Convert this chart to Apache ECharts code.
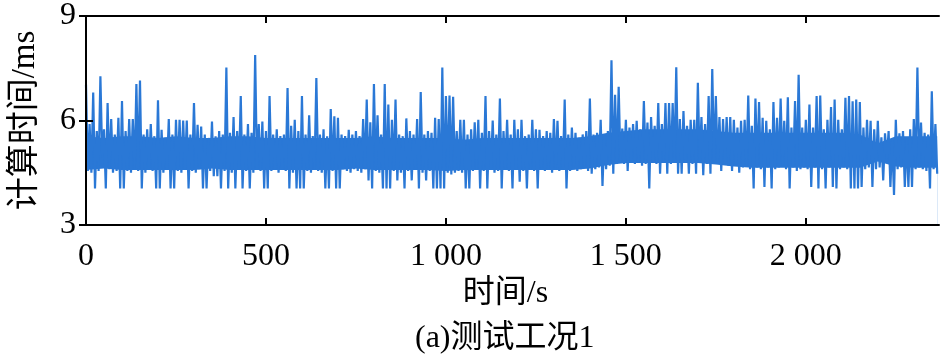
<!DOCTYPE html>
<html>
<head>
<meta charset="utf-8">
<script src="https://cdn.jsdelivr.net/npm/echarts@6/dist/echarts.min.js"></script>
<style>
html,body{margin:0;padding:0;background:#fff;}
#c{width:942px;height:357px;}
</style>
</head>
<body>
<div id="c"></div>
<script>
// Sampling: each 10 s bin holds an upper sample (at bin start) and a lower sample (5 s later)
const binSeconds = 10;
// upper samples (ms), bins 0..236
const hiValues = [
  7.03, 5.9, 6.8, 5.7, 7.27, 5.75, 6.5, 6.04, 5.6, 6.08,
  6.56, 5.7, 6.04, 6.04, 7.05, 7.15, 5.6, 5.75, 5.9, 5.55,
  6.58, 5.73, 5.5, 6.04, 5.6, 6.02, 6.02, 6.0, 6.0, 5.6,
  6.5, 5.88, 5.83, 5.6, 5.5, 5.97, 5.55, 5.7, 5.6, 7.52,
  5.65, 6.1, 5.7, 6.7, 5.6, 5.9, 5.65, 7.88, 5.9, 5.97,
  5.7, 6.7, 5.6, 5.75, 5.55, 5.6, 6.93, 5.85, 6.02, 5.7,
  6.7, 5.6, 6.15, 5.55, 7.22, 5.6, 5.75, 5.55, 6.33, 6.12,
  6.08, 5.6, 5.55, 5.73, 5.6, 5.7, 5.55, 6.04, 6.6, 5.95,
  7.05, 6.15, 5.6, 7.05, 6.46, 6.02, 6.6, 5.6, 5.55, 6.06,
  5.7, 5.6, 6.04, 6.82, 5.6, 5.7, 5.65, 6.08, 6.04, 7.52,
  6.7, 6.72, 6.68, 5.7, 6.02, 6.02, 5.6, 5.75, 5.95, 6.02,
  5.65, 6.7, 5.7, 6.0, 5.6, 6.63, 5.7, 6.02, 5.6, 6.02,
  5.75, 6.02, 5.55, 5.6, 6.02, 5.75, 5.73, 5.55, 5.7, 5.65,
  6.04, 5.99, 5.55, 6.6, 5.6, 5.8, 5.65, 5.5, 5.6, 5.7,
  6.63, 5.6, 5.65, 6.02, 5.6, 5.7, 7.73, 6.74, 6.97, 5.77,
  6.02, 5.8, 5.9, 5.99, 5.75, 6.56, 5.94, 6.1, 5.85, 6.5,
  5.9, 6.5, 6.5, 6.5, 7.53, 6.04, 6.27, 5.85, 6.02, 6.02,
  7.08, 6.1, 5.9, 6.7, 7.48, 6.7, 6.1, 6.04, 6.1, 6.1,
  6.02, 5.8, 5.99, 6.02, 6.72, 5.85, 6.63, 6.53, 6.08, 5.99,
  5.75, 6.53, 6.08, 6.63, 5.99, 6.67, 5.8, 6.56, 7.31, 5.8,
  6.02, 6.46, 5.8, 6.7, 6.72, 5.75, 6.02, 6.39, 6.6, 6.02,
  5.75, 6.65, 6.7, 6.55, 6.6, 6.53, 5.8, 6.02, 5.99, 5.75,
  5.99, 5.52, 5.63, 5.7, 5.45, 6.02, 5.63, 5.7, 5.5, 5.75,
  6.04, 7.52, 5.94, 5.65, 5.6, 6.84, 5.9
];
// lower samples (ms), bins 0..236
const loValues = [
  4.55, 4.5, 4.05, 4.55, 4.95, 4.05, 4.6, 4.5, 4.55, 4.05,
  4.05, 4.55, 4.5, 4.6, 4.55, 4.05, 4.5, 4.6, 4.55, 4.05,
  4.05, 4.5, 4.6, 4.05, 4.05, 4.55, 4.5, 4.6, 4.05, 4.55,
  4.5, 4.6, 4.05, 4.05, 4.55, 4.4, 4.4, 4.05, 4.55, 4.05,
  4.5, 4.05, 4.6, 4.05, 4.55, 4.05, 4.5, 4.6, 4.55, 4.05,
  4.05, 4.55, 4.6, 4.5, 4.6, 4.55, 4.05, 4.5, 4.05, 4.05,
  4.05, 4.55, 4.5, 4.6, 4.55, 4.5, 4.05, 4.05, 4.55, 4.05,
  4.05, 4.6, 4.55, 4.5, 4.6, 4.55, 4.5, 4.6, 4.28, 4.05,
  4.55, 4.5, 4.05, 4.05, 4.05, 4.55, 4.28, 4.5, 4.05, 4.55,
  4.28, 4.6, 4.05, 4.5, 4.28, 4.55, 4.05, 4.05, 4.05, 4.05,
  4.5, 4.45, 4.5, 4.55, 4.5, 4.05, 4.05, 4.55, 4.6, 4.05,
  4.55, 4.05, 4.6, 4.5, 4.55, 4.05, 4.6, 4.55, 4.05, 4.6,
  4.24, 4.55, 4.05, 4.6, 4.55, 4.05, 4.6, 4.55, 4.6, 4.5,
  4.6, 4.55, 4.6, 4.05, 4.55, 4.6, 4.55, 4.6, 4.65, 4.55,
  4.47, 4.6, 4.65, 4.12, 4.6, 4.7, 4.47, 4.75, 4.8, 4.75,
  4.55, 4.8, 4.75, 4.8, 4.7, 4.75, 4.05, 4.8, 4.75, 4.47,
  4.8, 4.47, 4.75, 4.8, 4.47, 4.47, 4.8, 4.47, 4.75, 4.47,
  4.8, 4.43, 4.75, 4.47, 4.8, 4.75, 4.55, 4.75, 4.7, 4.55,
  4.7, 4.5, 4.65, 4.7, 4.6, 4.05, 4.65, 4.6, 4.09, 4.65,
  4.05, 4.6, 4.65, 4.7, 4.6, 4.05, 4.65, 4.55, 4.6, 4.65,
  4.6, 4.09, 4.65, 4.05, 4.6, 4.05, 4.65, 4.09, 4.05, 4.6,
  4.65, 4.6, 4.05, 4.05, 4.05, 4.09, 4.6, 4.65, 4.09, 4.6,
  4.65, 4.28, 4.9, 4.09, 3.86, 4.6, 4.65, 4.09, 4.09, 4.09,
  4.6, 4.65, 4.6, 4.55, 4.05, 4.6, 4.47
];
// dense (solid) core of the signal band, read at 50 s steps
const coreTimes = [
  0, 50, 100, 150, 200, 250, 300, 350, 400, 450,
  500, 550, 600, 650, 700, 750, 800, 850, 900, 950,
  1000, 1050, 1100, 1150, 1200, 1250, 1300, 1350, 1400, 1450,
  1500, 1550, 1600, 1650, 1700, 1750, 1800, 1850, 1900, 1950,
  2000, 2050, 2100, 2150, 2200, 2250, 2300, 2350, 2365
];
const coreLow = [
  4.58, 4.62, 4.58, 4.58, 4.58, 4.58, 4.58, 4.62, 4.58, 4.58,
  4.58, 4.58, 4.58, 4.58, 4.58, 4.62, 4.58, 4.58, 4.58, 4.58,
  4.55, 4.58, 4.58, 4.58, 4.58, 4.58, 4.58, 4.58, 4.62, 4.72,
  4.78, 4.78, 4.78, 4.78, 4.78, 4.74, 4.68, 4.64, 4.64, 4.64,
  4.64, 4.64, 4.64, 4.64, 4.82, 4.68, 4.64, 4.64, 4.64
];
const coreHigh = [
  5.55, 5.5, 5.55, 5.55, 5.5, 5.55, 5.5, 5.5, 5.55, 5.55,
  5.5, 5.5, 5.5, 5.5, 5.5, 5.5, 5.55, 5.5, 5.5, 5.5,
  5.5, 5.45, 5.5, 5.5, 5.5, 5.5, 5.5, 5.5, 5.55, 5.65,
  5.7, 5.75, 5.75, 5.75, 5.75, 5.7, 5.65, 5.65, 5.65, 5.65,
  5.65, 5.65, 5.65, 5.6, 5.35, 5.55, 5.55, 5.55, 5.55
];
const xTickValues = [0, 500, 1000, 1500, 2000];
const xTickLabels = ['0', '500', '1 000', '1 500', '2 000'];
const yTickValues = [3, 6, 9];
const yTickLabels = ['3', '6', '9'];

const n = Math.min(hiValues.length, loValues.length);
const seriesData = [];
for (let i = 0; i < n; i++) {
  seriesData.push([i * binSeconds, hiValues[i]]);
  seriesData.push([i * binSeconds + binSeconds / 2, loValues[i]]);
}
const coreTopData = coreTimes.map((t, i) => [t, coreHigh[i]]);
const coreBottomData = coreTimes.map((t, i) => [t, coreLow[i]]);

const BLUE = '#2a78d6';
const FONT = "'Liberation Serif', 'Times New Roman', 'Noto Sans CJK SC', serif";
const axisLineStyle = { color: '#000', width: 2 };

function xLabel(v) { const k = xTickValues.indexOf(v); return k >= 0 ? xTickLabels[k] : ''; }
function yLabel(v) { const k = yTickValues.indexOf(v); return k >= 0 ? yTickLabels[k] : ''; }

const chart = echarts.init(document.getElementById('c'), null, { renderer: 'canvas' });
chart.setOption({
  animation: false,
  backgroundColor: '#fff',
  title: {
    text: '(a)测试工况1',
    left: 410,
    top: 318,
    textStyle: { fontFamily: FONT, fontSize: 32, fontWeight: 'normal', color: '#000' }
  },
  grid: { left: 86, right: 3, top: 14, bottom: 132, containLabel: false },
  xAxis: [{
    type: 'value', min: 0, max: 2370, position: 'bottom', z: 10,
    name: '时间/s', nameLocation: 'middle', nameGap: 52,
    nameTextStyle: { fontFamily: FONT, fontSize: 32, color: '#000', padding: [0, 14, 0, 0] },
    axisLine: { show: true, lineStyle: axisLineStyle },
    axisTick: { show: true, inside: true, length: 7, customValues: xTickValues, lineStyle: { color: '#000', width: 2 } },
    axisLabel: { customValues: xTickValues, formatter: xLabel, margin: 16, fontFamily: FONT, fontSize: 32, color: '#000' },
    splitLine: { show: false }
  }, {
    type: 'value', min: 0, max: 2370, position: 'top', z: 10,
    axisLine: { show: true, lineStyle: axisLineStyle },
    axisTick: { show: true, inside: true, length: 7, customValues: xTickValues, lineStyle: { color: '#000', width: 2 } },
    axisLabel: { show: false },
    splitLine: { show: false }
  }],
  yAxis: [{
    type: 'value', min: 3, max: 9, interval: 3, position: 'left', z: 10,
    name: '计算时间/ms', nameLocation: 'middle', nameGap: 44,
    nameTextStyle: { fontFamily: FONT, fontSize: 33, color: '#000' },
    axisLine: { show: true, lineStyle: axisLineStyle },
    axisTick: { show: true, inside: true, length: 7, lineStyle: { color: '#000', width: 2 } },
    axisLabel: { formatter: yLabel, margin: 10, fontFamily: FONT, fontSize: 32, color: '#000' },
    splitLine: { show: false }
  }, {
    type: 'value', min: 3, max: 9, interval: 3, position: 'right', z: 10,
    axisLine: { show: true, lineStyle: axisLineStyle },
    axisTick: { show: true, inside: true, length: 7, lineStyle: { color: '#000', width: 2 } },
    axisLabel: { show: false },
    splitLine: { show: false }
  }],
  series: [{
    name: 'coreTop',
    type: 'line',
    data: coreTopData,
    showSymbol: false, symbol: 'none',
    lineStyle: { width: 0, opacity: 0 },
    areaStyle: { color: BLUE, opacity: 1, origin: 'start' },
    silent: true, z: 0
  }, {
    name: 'coreBottom',
    type: 'line',
    data: coreBottomData,
    showSymbol: false, symbol: 'none',
    lineStyle: { width: 0, opacity: 0 },
    areaStyle: { color: '#ffffff', opacity: 1, origin: 'start' },
    silent: true, z: 0.5
  }, {
    name: 'calc',
    type: 'line',
    data: seriesData,
    showSymbol: false, symbol: 'none',
    sampling: false,
    lineStyle: { color: BLUE, width: 2.2, join: 'miter', miterLimit: 2 },
    z: 1
  }]
});
</script>
</body>
</html>
